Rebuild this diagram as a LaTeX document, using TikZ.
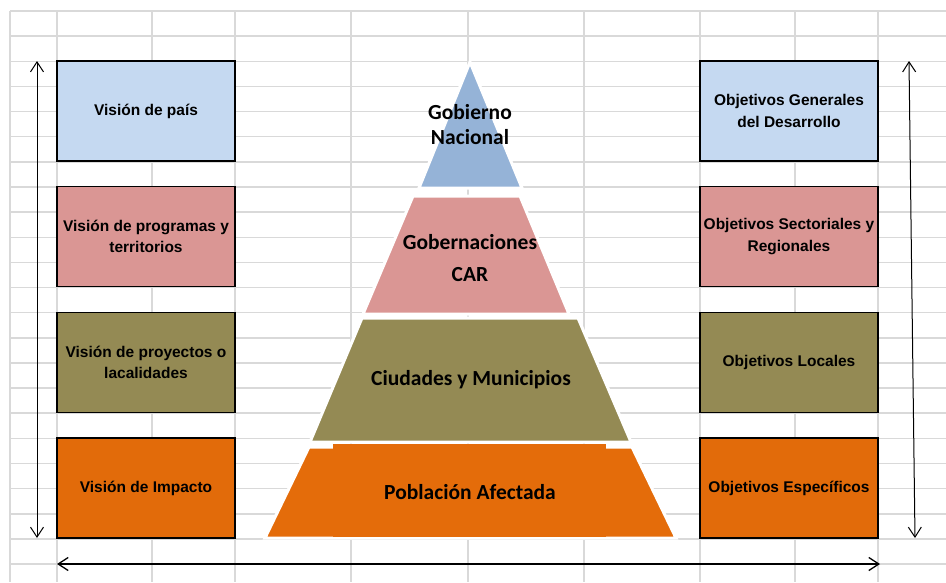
\documentclass[tikz,border=0pt]{standalone}
\usepackage{fontspec}
\setmainfont{Liberation Sans}
\newfontfamily\calfont{Carlito}
\usetikzlibrary{arrows.meta}
\definecolor{gridgray}{HTML}{D9D9D9}
\definecolor{visblue}{HTML}{C5D9F1}
\definecolor{vispink}{HTML}{DA9694}
\definecolor{visolive}{HTML}{948A54}
\definecolor{visorange}{HTML}{E26B0A}
\definecolor{pyrblue}{HTML}{95B3D7}
\definecolor{pyrpink}{HTML}{DA9694}
\definecolor{pyrolive}{HTML}{948A54}
\definecolor{pyrorange}{HTML}{E46C0A}
\begin{document}
\begin{tikzpicture}[x=1pt, y=-1pt,
  grid line/.style={draw=gridgray, line width=1.5pt},
  vis box/.style={rectangle, draw=black, line width=1.5pt, minimum width=178pt, minimum height=100pt, inner sep=0pt, align=center, font=\fontsize{15.5}{21.5}\selectfont\bfseries},
  layer/.style={draw=white, line width=3pt},
  layer text/.style={align=center, font=\calfont\fontsize{21.5}{25}\selectfont\bfseries},
  span arrow/.style={draw=black, line width=1pt, {Straight Barb[length=10pt,width=13pt]}-{Straight Barb[length=10pt,width=13pt]}}]
\useasboundingbox (0,0) rectangle (946,582);
\foreach \k in {0,...,22}
  \draw[grid line] (10,{11+25.14*\k}) -- (946,{11+25.14*\k});
\foreach \x in {10,57,152,235,351,468,584,700,795,878}
  \draw[grid line] (\x,11) -- (\x,582);
\path[layer, fill=pyrblue] (470,62) -- (522,188) -- (419,188) -- cycle;
\path[layer, fill=pyrpink] (413,196) -- (520,196) -- (569,314) -- (363,314) -- cycle;
\path[layer, fill=pyrolive] (362,318) -- (578,318) -- (631,442) -- (310,442) -- cycle;
\path[layer, fill=pyrorange] (309,447) -- (632,447) -- (676,538) -- (265,538) -- cycle;
\fill[pyrorange] (333,444) rectangle (606,537);
\node[layer text] (gobn) at (470,125) {Gobierno\\Nacional};
\node[layer text] (gobr) at (470,258) {Gobernaciones\\[7pt]CAR};
\node[layer text] (ciud) at (471,380) {Ciudades y Municipios};
\node[layer text] (pobl) at (470,492) {Población Afectada};
\node[vis box, fill=visblue] (vpais) at (146,111) {Visión de país};
\node[vis box, fill=vispink] (vprog) at (146,236.5) {Visión de programas y\\territorios};
\node[vis box, fill=visolive] (vproy) at (146,362.5) {Visión de proyectos o\\lacalidades};
\node[vis box, fill=visorange] (vimp) at (146,488) {Visión de Impacto};
\node[vis box, fill=visblue] (ogen) at (789,111) {Objetivos Generales\\del Desarrollo};
\node[vis box, fill=vispink] (osect) at (789,236.5) {Objetivos Sectoriales y\\Regionales};
\node[vis box, fill=visolive] (oloc) at (789,362.5) {Objetivos Locales};
\node[vis box, fill=visorange] (oesp) at (789,488) {Objetivos Específicos};
\coordinate (lt) at (37,61);
\coordinate (lb) at (37,538);
\coordinate (rt) at (909,61);
\coordinate (rb) at (915,538);
\coordinate (bl) at (57,564);
\coordinate (br) at (880,564);
\draw[span arrow] (lt) -- (lb);
\draw[span arrow] (rt) -- (rb);
\draw[span arrow, line width=1.3pt] (bl) -- (br);
\end{tikzpicture}
\end{document}
